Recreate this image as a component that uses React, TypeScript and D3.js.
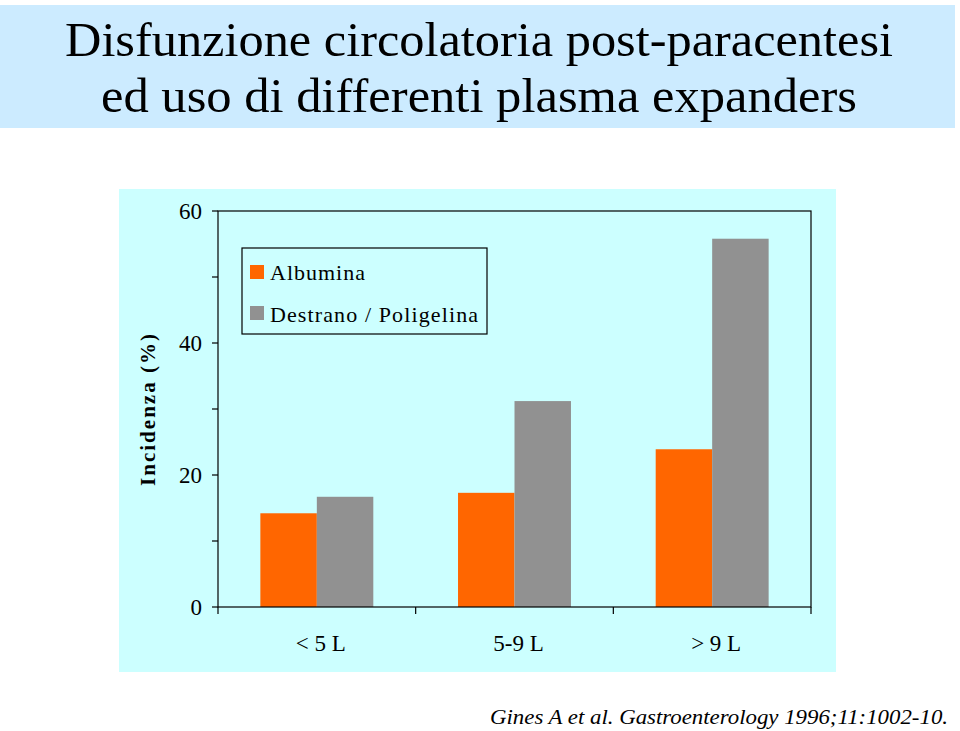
import React from "react";
import * as d3 from "d3";

const categories = ["< 5 L", "5-9 L", "> 9 L"];
const seriesNames = ["Albumina", "Destrano / Poligelina"];
const albumina = [14.2, 17.3, 23.9];
const destrano = [16.7, 31.2, 55.8];
const yTicks = [0, 20, 40, 60];
const yMinorTicks = [10, 30, 50];
const titleLines = ["Disfunzione circolatoria post-paracentesi", "ed uso di differenti plasma expanders"];
const yLabel = "Incidenza (%)";
const citation = "Gines A et al. Gastroenterology 1996;11:1002-10.";

const colors = ["#FF6600", "#919191"];

export default function App() {
  const W = 960, H = 731;
  const left = 218, right = 811, top = 211, bottom = 607;
  const x0 = d3.scaleBand<string>().domain(categories).range([left, right]).padding(0);
  const x1 = d3.scaleBand<string>().domain(seriesNames).range([0, x0.bandwidth()]).paddingInner(0).paddingOuter(0.75);
  const y = d3.scaleLinear().domain([0, 60]).range([bottom, top]);
  const seriesValues = [albumina, destrano];
  const serif = "'Liberation Serif', 'Times New Roman', serif";
  const boundaries = [left, ...categories.map((c) => (x0(c) as number) + x0.bandwidth())];

  return (
    <svg width={W} height={H} style={{ position: "absolute", left: 0, top: 0 }}>
      <rect x={0} y={0} width={W} height={H} fill="#ffffff" />
      <rect x={0} y={5} width={955} height={123} fill="#CCEBFF" />
      {titleLines.map((t, i) => (
        <text key={i} x={479} y={i === 0 ? 56 : 112} textAnchor="middle" fontFamily={serif} fontSize={49}
          textLength={i === 0 ? 828 : 756} lengthAdjust="spacingAndGlyphs" fill="#000">{t}</text>
      ))}
      <rect x={119} y={189} width={717} height={483} fill="#CCFFFF" />
      {categories.map((c, ci) => (
        <g key={c}>
          {seriesNames.map((s, si) => (
            <rect key={s} x={(x0(c) as number) + (x1(s) as number)} y={y(seriesValues[si][ci])}
              width={x1.bandwidth()} height={y(0) - y(seriesValues[si][ci])} fill={colors[si]} />
          ))}
        </g>
      ))}
      <rect x={left} y={top} width={right - left} height={bottom - top} fill="none" stroke="#000" strokeWidth={1.2} />
      {yTicks.map((t) => (
        <g key={t}>
          <line x1={left - 6} x2={left} y1={y(t)} y2={y(t)} stroke="#000" strokeWidth={1.2} />
          <text x={202} y={y(t) + 8} textAnchor="end" fontFamily={serif} fontSize={23}>{t}</text>
        </g>
      ))}
      {yMinorTicks.map((t) => (
        <line key={t} x1={left - 6} x2={left} y1={y(t)} y2={y(t)} stroke="#000" strokeWidth={1.2} />
      ))}
      {boundaries.map((b, i) => (
        <line key={i} x1={b} x2={b} y1={bottom} y2={bottom + 7} stroke="#000" strokeWidth={1.2} />
      ))}
      {categories.map((c) => (
        <text key={c} x={(x0(c) as number) + x0.bandwidth() / 2 + 4} y={651} textAnchor="middle"
          fontFamily={serif} fontSize={23}>{c}</text>
      ))}
      <text transform="translate(155,410) rotate(-90)" textAnchor="middle" fontFamily={serif} fontSize={21}
        fontWeight="bold" textLength={152} lengthAdjust="spacing">{yLabel}</text>
      <rect x={242} y={248} width={245} height={86} fill="none" stroke="#000" strokeWidth={1.2} />
      {seriesNames.map((s, i) => (
        <g key={s}>
          <rect x={250} y={265 + i * 41} width={14} height={14} fill={colors[i]} />
          <text x={270} y={280 + i * 42} fontFamily={serif} fontSize={22}
            textLength={i === 0 ? 95 : 208} lengthAdjust="spacing">{s}</text>
        </g>
      ))}
      <text x={490} y={724} fontFamily={serif} fontStyle="italic" fontSize={22} textLength={458}
        lengthAdjust="spacingAndGlyphs">{citation}</text>
    </svg>
  );
}
